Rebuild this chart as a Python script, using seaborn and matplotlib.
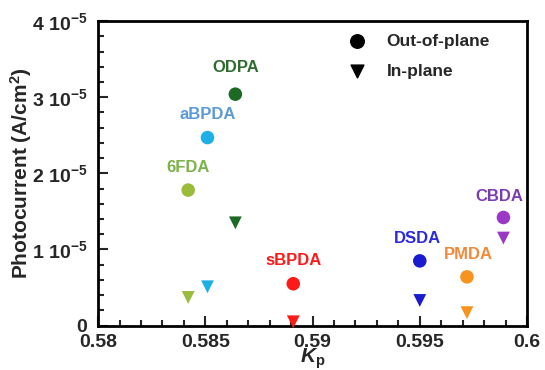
import pandas as pd
import numpy as np
import matplotlib.pyplot as plt
import seaborn as sns
from matplotlib.ticker import MultipleLocator, FuncFormatter

sns.set_style("ticks")
plt.rcParams['font.family'] = ['Liberation Sans', 'DejaVu Sans']
plt.rcParams['font.weight'] = 'bold'
plt.rcParams['mathtext.fontset'] = 'custom'
plt.rcParams['mathtext.rm'] = 'Liberation Sans:bold'
plt.rcParams['mathtext.bf'] = 'Liberation Sans:bold'
plt.rcParams['mathtext.it'] = 'Liberation Sans:bold:italic'

# data (photocurrent in units of 1e-5 A/cm2)
names = ["6FDA", "aBPDA", "ODPA", "sBPDA", "DSDA", "PMDA", "CBDA"]
kp = [0.5842, 0.5851, 0.5864, 0.5891, 0.5950, 0.5972, 0.5989]
out_plane = [1.78, 2.47, 3.04, 0.55, 0.85, 0.64, 1.42]
in_plane = [0.37, 0.51, 1.35, 0.05, 0.33, 0.17, 1.15]
colors = ["#9bbb3b", "#1cb0e6", "#1d6a25", "#ff1a1a", "#1a1ad0", "#f7931e", "#9a38c8"]
label_colors = ["#7cb24a", "#5b9bd5", "#2e6b2e", "#ff1a1a", "#2b2bdc", "#f08a3a", "#7a3cb4"]
# label offsets in points (style only)
label_dy = [11, 11, 14, 11, 11, 11, 10]
label_dx = [0, 0, 0, 0, -2, 1, -3]

df = pd.DataFrame({"name": names, "kp": kp, "out": out_plane, "inp": in_plane})
pal = dict(zip(names, colors))

fig, ax = plt.subplots(figsize=(5.45, 3.7), dpi=100)
sns.scatterplot(data=df, x="kp", y="out", hue="name", palette=pal, marker="o",
                s=95, edgecolor="none", legend=False, ax=ax, clip_on=False, zorder=3)
sns.scatterplot(data=df, x="kp", y="inp", hue="name", palette=pal, marker="v",
                s=85, edgecolor="none", legend=False, ax=ax, clip_on=False, zorder=3)

# labels above out-of-plane points
for n, x, y, c, dx, dy in zip(names, kp, out_plane, label_colors, label_dx, label_dy):
    ax.annotate(n, (x, y), xytext=(dx, dy), textcoords="offset points",
                ha="center", va="bottom", color=c, fontsize=12, fontweight="bold")

# legend
ax.scatter([], [], marker="o", color="black", s=95, label="Out-of-plane")
ax.scatter([], [], marker="v", color="black", s=85, label="In-plane")
ax.legend(loc="upper right", frameon=False, fontsize=12.5, handletextpad=0.7,
          labelspacing=0.85, bbox_to_anchor=(0.95, 1.01))

ax.set_xlim(0.58, 0.6)
ax.set_ylim(0, 4)
ax.xaxis.set_major_locator(MultipleLocator(0.005))
ax.xaxis.set_minor_locator(MultipleLocator(0.001))
ax.yaxis.set_major_locator(MultipleLocator(1))
ax.yaxis.set_minor_locator(MultipleLocator(0.2))
ax.xaxis.set_major_formatter(FuncFormatter(lambda v, p: f"{v:g}"))
ax.yaxis.set_major_formatter(FuncFormatter(
    lambda v, p: "0" if v == 0 else f"{int(round(v))} 10$^{{\\mathregular{{-5}}}}$"))
ax.tick_params(which="both", direction="in", top=False, right=False,
               labelsize=14, width=1.5)
ax.tick_params(which="major", length=7)
ax.tick_params(which="minor", length=4)
ax.tick_params(axis="x", pad=6)
ax.tick_params(axis="y", pad=8)
for sp in ax.spines.values():
    sp.set_linewidth(2)
    sp.set_color("black")

ax.set_xlabel(r"$\mathit{K}_{\mathrm{p}}$", fontsize=15, labelpad=-3)
ax.set_ylabel(r"Photocurrent (A/cm$^2$)", fontsize=15, fontweight="bold", labelpad=-2)

fig.subplots_adjust(left=0.18, right=0.967, top=0.943, bottom=0.12)
plt.savefig("out.png")
